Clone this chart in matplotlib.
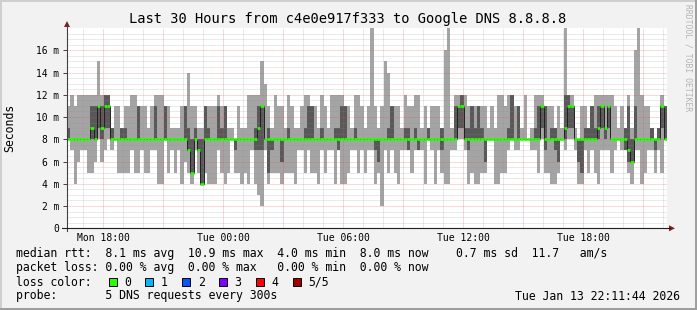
import matplotlib
matplotlib.use("Agg")
import matplotlib.pyplot as plt
from matplotlib.patches import Rectangle, Polygon
import numpy as np

# smokeping: 5 sorted DNS pings per 10 min slot (ms), Mon 16:11 -> Tue 22:11
ping1 = [8, 7, 4, 6, 7, 7, 5, 5, 6, 8, 6, 7, 8, 7, 8, 5, 5, 5, 5, 7, 5, 5, 7, 5, 5, 7, 7, 4, 4, 8,
         5, 7, 5, 7, 4, 6, 5, 4, 7, 5, 4, 5, 4, 4, 4, 7, 5, 4, 5, 8, 5, 5, 4, 5, 4, 7, 4, 3, 2, 7,
         4, 5, 5, 5, 4, 5, 5, 5, 4, 7, 7, 5, 7, 5, 5, 4, 7, 5, 7, 7, 4, 7, 4, 4, 5, 7, 7, 5, 7, 5,
         7, 7, 4, 5, 2, 7, 5, 7, 5, 4, 7, 7, 7, 5, 7, 7, 7, 4, 8, 7, 4, 7, 5, 4, 4, 7, 7, 8, 8, 7,
         4, 5, 4, 4, 5, 5, 8, 8, 4, 4, 5, 5, 7, 8, 7, 7, 8, 8, 8, 7, 7, 5, 8, 5, 5, 4, 4, 5, 8, 7,
         8, 8, 7, 4, 4, 7, 5, 7, 5, 4, 7, 7, 7, 5, 7, 8, 7, 7, 5, 4, 7, 7, 4, 5, 7, 7, 5, 7, 5, 8]
ping2 = [8, 8, 8, 8, 8, 8, 8, 8, 8, 9, 8, 9, 9, 8, 8, 8, 8, 8, 8, 8, 8, 8, 8, 8, 8, 8, 8, 8, 8, 8,
         8, 8, 8, 8, 8, 8, 7, 5, 8, 7, 4, 8, 8, 8, 8, 8, 8, 8, 8, 8, 7, 8, 8, 8, 8, 8, 7, 7, 7, 8,
         5, 7, 8, 8, 6, 8, 8, 8, 8, 8, 8, 8, 8, 8, 8, 8, 8, 8, 8, 8, 8, 7, 8, 8, 8, 8, 8, 8, 8, 8,
         8, 8, 7, 6, 8, 8, 8, 8, 8, 8, 8, 8, 7, 8, 8, 7, 8, 8, 8, 8, 8, 8, 7, 8, 8, 8, 8, 9, 9, 8,
         7, 8, 8, 8, 8, 6, 8, 8, 8, 8, 8, 8, 8, 8, 8, 8, 8, 8, 8, 8, 8, 8, 9, 7, 8, 8, 7, 6, 8, 8,
         9, 9, 8, 6, 5, 8, 8, 8, 8, 8, 9, 8, 9, 8, 8, 8, 8, 7, 6, 6, 8, 8, 8, 8, 8, 8, 7, 8, 9, 8]
ping3 = [8, 8, 8, 8, 8, 8, 8, 9, 8, 11, 9, 11, 11, 8, 8, 8, 8, 8, 8, 8, 8, 8, 8, 8, 8, 8, 8, 8, 8, 8,
         8, 8, 8, 8, 8, 8, 7, 5, 8, 7, 4, 8, 8, 8, 8, 8, 8, 8, 8, 8, 8, 8, 8, 8, 8, 8, 8, 9, 11, 8,
         8, 8, 8, 8, 8, 8, 8, 8, 8, 8, 8, 8, 8, 8, 8, 8, 8, 8, 8, 8, 8, 8, 8, 8, 8, 8, 8, 8, 8, 8,
         8, 8, 8, 8, 8, 8, 8, 8, 8, 8, 8, 8, 8, 8, 8, 8, 8, 8, 8, 8, 8, 8, 8, 8, 8, 8, 8, 11, 11, 8,
         8, 8, 8, 8, 8, 8, 8, 8, 8, 8, 8, 8, 8, 8, 8, 8, 8, 8, 8, 8, 8, 8, 11, 8, 8, 8, 8, 8, 8, 9,
         11, 11, 8, 8, 8, 8, 8, 8, 8, 9, 11, 9, 11, 8, 8, 8, 8, 8, 7, 6, 8, 8, 8, 8, 8, 8, 8, 8, 11, 8]
ping4 = [9, 8, 8, 8, 8, 8, 8, 11, 11, 11, 11, 12, 12, 9, 8, 8, 9, 9, 8, 8, 8, 11, 8, 8, 8, 8, 11, 8, 8, 11,
         8, 8, 8, 8, 8, 11, 9, 8, 9, 8, 8, 11, 9, 8, 8, 11, 9, 11, 8, 8, 8, 8, 8, 8, 8, 8, 9, 11, 11, 8,
         9, 8, 8, 8, 8, 8, 9, 8, 8, 8, 8, 9, 11, 11, 8, 8, 9, 8, 8, 8, 9, 9, 11, 11, 8, 8, 9, 8, 8, 8,
         8, 8, 8, 8, 8, 8, 9, 11, 8, 8, 8, 9, 9, 8, 9, 8, 8, 8, 9, 8, 8, 8, 9, 8, 8, 8, 11, 11, 12, 9,
         9, 11, 9, 11, 9, 8, 8, 8, 8, 8, 8, 8, 9, 12, 8, 11, 8, 8, 8, 8, 9, 11, 11, 11, 8, 9, 9, 8, 8, 12,
         12, 11, 8, 8, 8, 9, 9, 11, 9, 11, 11, 9, 11, 8, 8, 8, 8, 9, 11, 8, 11, 8, 8, 8, 8, 9, 8, 9, 11, 11]
ping5 = [11, 12, 11, 12, 12, 12, 12, 12, 12, 15, 12, 12, 12, 9, 11, 11, 9, 11, 11, 12, 12, 11, 11, 11, 9, 11, 12, 12, 12, 11,
         11, 9, 9, 9, 11, 11, 14, 11, 11, 9, 9, 11, 11, 11, 11, 12, 11, 11, 9, 9, 8, 11, 9, 9, 12, 12, 12, 12, 15, 13,
         11, 9, 12, 11, 11, 9, 12, 11, 9, 9, 11, 12, 12, 11, 11, 9, 12, 11, 9, 12, 12, 12, 12, 11, 11, 9, 12, 12, 11, 9,
         11, 19, 11, 9, 11, 15, 14, 11, 11, 11, 9, 12, 11, 11, 12, 12, 9, 11, 9, 11, 11, 11, 9, 16, 19, 9, 12, 12, 12, 12,
         11, 11, 11, 11, 11, 11, 9, 11, 9, 12, 12, 11, 12, 12, 11, 11, 9, 12, 8, 9, 12, 12, 12, 11, 11, 11, 9, 11, 9, 19,
         12, 12, 9, 8, 11, 11, 9, 11, 12, 12, 12, 12, 12, 12, 11, 9, 11, 9, 12, 9, 16, 19, 12, 11, 11, 9, 8, 9, 12, 11]

t_start = 16 + 11 / 60 + 44 / 3600   # hours since Mon 00:00
span_hours = 30
slot_hours = 1 / 6

y_ticks = [0, 2, 4, 6, 8, 10, 12, 14, 16]
y_labels = ["0", "2 m", "4 m", "6 m", "8 m", "10 m", "12 m", "14 m", "16 m"]
x_ticks = [18, 24, 30, 36, 42]
x_labels = ["Mon 18:00", "Tue 00:00", "Tue 06:00", "Tue 12:00", "Tue 18:00"]

loss_names = ["0", "1", "2", "3", "4", "5/5"]
loss_colors = ["#26ff00", "#00b8ff", "#0059ff", "#7e00ff", "#ff0000", "#a00000"]

legend_rtt = "median rtt:  8.1 ms avg  10.9 ms max  4.0 ms min  8.0 ms now    0.7 ms sd  11.7   am/s"
legend_loss = "packet loss: 0.00 % avg  0.00 % max   0.00 % min  0.00 % now"
legend_probe = "probe:       5 DNS requests every 300s"
stamp = "Tue Jan 13 22:11:44 2026"
title = "Last 30 Hours from c4e0e917f333 to Google DNS 8.8.8.8"

MONO = "DejaVu Sans Mono"
W, H = 697, 310

p1, p2, p3, p4, p5 = (np.array(p, dtype=float) for p in (ping1, ping2, ping3, ping4, ping5))
edges = t_start + np.arange(len(p1) + 1) * slot_hours
left = edges[:-1]

fig = plt.figure(figsize=(W / 100, H / 100), dpi=100, facecolor="#f2f2f2")
x0, x1, ybot, ytop = 67, 667, 228.3, 28
ax = fig.add_axes([x0 / W, (H - ybot) / H, (x1 - x0) / W, (ybot - ytop) / H])
ax.set_facecolor("white")
ax.set_xlim(t_start, t_start + span_hours)
ax.set_ylim(0, 18)
for s in ax.spines.values():
    s.set_visible(False)

# smoke: outer pings light, inner pings dark
ax.bar(left, p5 - p1, bottom=p1, width=slot_hours, align="edge", color="#a4a4a4", lw=0, zorder=1)
ax.bar(left, p4 - p2, bottom=p2, width=slot_hours, align="edge", color="#585858", lw=0, zorder=1.5)

# grid on top of the smoke, rrdtool style
dot = (0, (1, 1))
for v in np.arange(0.5, 18, 0.5):
    if v % 2 == 0:
        ax.axhline(v, color="#de4f4f", alpha=0.42, lw=0.72, ls=dot, zorder=2)
    else:
        ax.axhline(v, color="#8f8f8f", alpha=0.36, lw=0.72, ls=dot, zorder=2)
for h in range(17, 47):
    if h % 3 == 0:
        ax.axvline(h, color="#de4f4f", alpha=0.42, lw=0.72, ls=dot, zorder=2)
    else:
        ax.axvline(h, color="#8f8f8f", alpha=0.36, lw=0.72, ls=dot, zorder=2)

# median: thin dark step line + loss coloured segments
ax.stairs(p3, edges, baseline=None, color="#202020", lw=0.7, zorder=3)
ax.hlines(p3, left, edges[1:], color=loss_colors[0], lw=1.9, zorder=4)

ax.set_yticks(y_ticks)
ax.set_yticklabels(y_labels, family=MONO, fontsize=6.9)
ax.set_xticks(x_ticks)
ax.set_xticklabels(x_labels, family=MONO, fontsize=7)
ax.tick_params(axis="y", length=3, width=0.7, color="#404040", pad=2.5)
ax.tick_params(axis="x", length=0, pad=3.5)

# overlay in pixel coordinates for frame, axes arrows, texts
ov = fig.add_axes([0, 0, 1, 1], zorder=5)
ov.set_xlim(0, W)
ov.set_ylim(H, 0)
ov.axis("off")
ov.patch.set_alpha(0)

ov.add_patch(Rectangle((0, 0), W, 1.5, color="#cfcfcf", lw=0))
ov.add_patch(Rectangle((0, 0), 1.5, H, color="#cfcfcf", lw=0))
ov.add_patch(Rectangle((0, H - 2), W, 2, color="#9e9e9e", lw=0))
ov.add_patch(Rectangle((W - 2, 0), 2, H, color="#9e9e9e", lw=0))

ov.plot([x0, x0], [ybot + 3, 25], color="#404040", lw=0.8)
ov.plot([62, 670], [ybot, ybot], color="#1f1f1f", lw=0.8)
ov.add_patch(Polygon([[x0, 21], [x0 - 3, 27], [x0 + 3, 27]], color="#801f1f", lw=0))
ov.add_patch(Polygon([[675, ybot], [669, ybot - 3], [669, ybot + 3]], color="#801f1f", lw=0))

ov.text(348, 19, title, family=MONO, fontsize=9.9, ha="center", va="center")
ov.text(10, 128, "Seconds", family=MONO, fontsize=8.3, rotation=90, ha="center", va="center")
ov.text(688, 58, "RRDTOOL / TOBI OETIKER", family=MONO, fontsize=5.8, rotation=270,
        ha="center", va="center", color="#b4b4b4")

ov.text(16, 254, legend_rtt, family=MONO, fontsize=8.3, va="center")
ov.text(16, 268, legend_loss, family=MONO, fontsize=8.3, va="center")
ov.text(16, 282, "loss color:", family=MONO, fontsize=8.3, va="center")
for i, (name, col) in enumerate(zip(loss_names, loss_colors)):
    sx = 108.5 + i * 36.9
    ov.add_patch(Rectangle((sx, 278), 8, 8, facecolor=col, edgecolor="black", lw=0.7))
    ov.text(sx + 15.5, 282, name, family=MONO, fontsize=8.3, va="center")
ov.text(16, 296, legend_probe, family=MONO, fontsize=8.3, va="center")
ov.text(680, 296, stamp, family=MONO, fontsize=8.3, va="center", ha="right")

fig.savefig("out.png", dpi=100, facecolor=fig.get_facecolor())
